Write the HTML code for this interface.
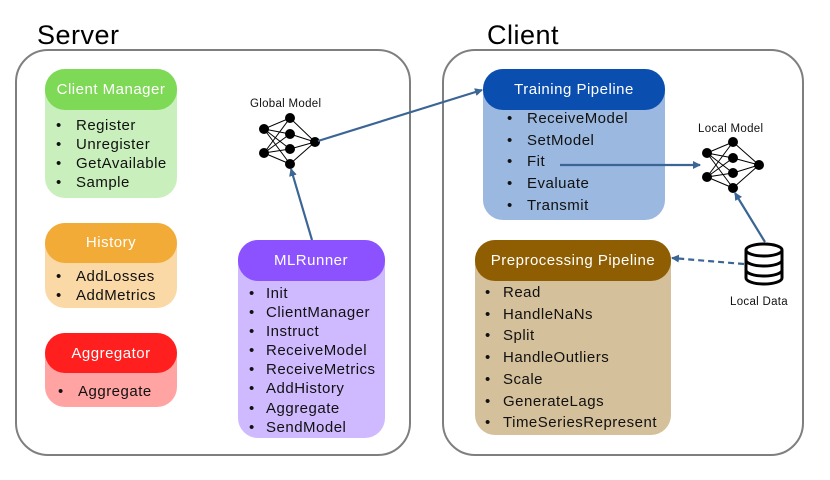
<!DOCTYPE html>
<html><head><meta charset="utf-8"><style>
body{margin:0;background:#fff;width:830px;height:475px;overflow:hidden}
text{font-family:"Liberation Sans",sans-serif}
.h{fill:#fff;font-size:15px;text-anchor:middle;letter-spacing:0.5px}
.i{fill:#111;font-size:15px;letter-spacing:0.5px}
</style></head><body>
<svg width="830" height="475" viewBox="0 0 830 475" xmlns="http://www.w3.org/2000/svg">
<defs><marker id="a" markerWidth="8" markerHeight="8" refX="7" refY="4" orient="auto" markerUnits="userSpaceOnUse"><path d="M0,0 L8,4 L0,8 z" fill="#3b6595"/></marker></defs>
<text x="37" y="44" font-size="27" fill="#000" letter-spacing="0.5">Server</text>
<text x="487" y="44" font-size="27" fill="#000" letter-spacing="0.5">Client</text>
<rect x="16" y="50" width="394" height="405" rx="32" fill="none" stroke="#7f7f7f" stroke-width="2"/>
<rect x="443" y="50" width="360" height="405" rx="32" fill="none" stroke="#7f7f7f" stroke-width="2"/>

<!-- Client Manager -->
<rect x="45" y="69" width="132" height="129" rx="20" fill="#c9f0bc"/>
<rect x="45" y="69" width="132" height="41" rx="20" fill="#7ed957"/>
<text class="h" x="111" y="94">Client Manager</text>
<g class="i"><text x="56" y="130">•</text><text x="76" y="130">Register</text>
<text x="56" y="149">•</text><text x="76" y="149">Unregister</text>
<text x="56" y="168">•</text><text x="76" y="168">GetAvailable</text>
<text x="56" y="187">•</text><text x="76" y="187">Sample</text></g>

<!-- History -->
<rect x="45" y="223" width="132" height="85" rx="20" fill="#fad9a6"/>
<rect x="45" y="223" width="132" height="40" rx="20" fill="#f2ab36"/>
<text class="h" x="111" y="247">History</text>
<g class="i"><text x="56" y="281">•</text><text x="76" y="281">AddLosses</text>
<text x="56" y="300">•</text><text x="76" y="300">AddMetrics</text></g>

<!-- Aggregator -->
<rect x="45" y="333" width="132" height="74" rx="20" fill="#ffa3a3"/>
<rect x="45" y="333" width="132" height="40" rx="20" fill="#ff1f1f"/>
<text class="h" x="111" y="358">Aggregator</text>
<g class="i"><text x="58" y="396">•</text><text x="78" y="396">Aggregate</text></g>

<!-- MLRunner -->
<rect x="238" y="240" width="147" height="198" rx="20" fill="#cfbaff"/>
<rect x="238" y="240" width="147" height="41" rx="20" fill="#8c52ff"/>
<text class="h" x="311" y="265">MLRunner</text>
<g class="i">
<text x="249" y="298">•</text><text x="266" y="298">Init</text>
<text x="249" y="317">•</text><text x="266" y="317">ClientManager</text>
<text x="249" y="336">•</text><text x="266" y="336">Instruct</text>
<text x="249" y="355">•</text><text x="266" y="355">ReceiveModel</text>
<text x="249" y="374">•</text><text x="266" y="374">ReceiveMetrics</text>
<text x="249" y="393">•</text><text x="266" y="393">AddHistory</text>
<text x="249" y="413">•</text><text x="266" y="413">Aggregate</text>
<text x="249" y="432">•</text><text x="266" y="432">SendModel</text></g>

<!-- Training Pipeline -->
<rect x="483" y="69" width="182" height="151" rx="20" fill="#9ab8e0"/>
<rect x="483" y="69" width="182" height="41" rx="20" fill="#0a4fb0"/>
<text class="h" x="574" y="94">Training Pipeline</text>
<g class="i">
<text x="507" y="123">•</text><text x="527" y="123">ReceiveModel</text>
<text x="507" y="145">•</text><text x="527" y="145">SetModel</text>
<text x="507" y="166">•</text><text x="527" y="166">Fit</text>
<text x="507" y="188">•</text><text x="527" y="188">Evaluate</text>
<text x="507" y="210">•</text><text x="527" y="210">Transmit</text></g>

<!-- Preprocessing -->
<rect x="475" y="240" width="196" height="195" rx="20" fill="#d4c09a"/>
<rect x="475" y="240" width="196" height="41" rx="20" fill="#8f5e02"/>
<text class="h" x="573" y="265">Preprocessing Pipeline</text>
<g class="i">
<text x="485" y="297">•</text><text x="503" y="297">Read</text>
<text x="485" y="319">•</text><text x="503" y="319">HandleNaNs</text>
<text x="485" y="340">•</text><text x="503" y="340">Split</text>
<text x="485" y="362">•</text><text x="503" y="362">HandleOutliers</text>
<text x="485" y="384">•</text><text x="503" y="384">Scale</text>
<text x="485" y="406">•</text><text x="503" y="406">GenerateLags</text>
<text x="485" y="427">•</text><text x="503" y="427">TimeSeriesRepresent</text></g>

<!-- Global model -->
<text x="250" y="107" font-size="11.5" fill="#111" letter-spacing="0.3">Global Model</text>
<g stroke="#000" stroke-width="1">
<path d="M264,129L290,118M264,129L290,134M264,129L290,149M264,129L290,164M264,153L290,118M264,153L290,134M264,153L290,149M264,153L290,164M290,118L315,142M290,134L315,142M290,149L315,142M290,164L315,142"/></g>
<g fill="#000"><circle cx="264" cy="129" r="5"/><circle cx="264" cy="153" r="5"/><circle cx="290" cy="118" r="5"/><circle cx="290" cy="134" r="5"/><circle cx="290" cy="149" r="5"/><circle cx="290" cy="164" r="5"/><circle cx="315" cy="142" r="5"/></g>

<!-- Local model -->
<text x="698" y="132" font-size="11.5" fill="#111" letter-spacing="0.3">Local Model</text>
<g stroke="#000" stroke-width="1">
<path d="M707,153L733,142M707,153L733,158M707,153L733,173M707,153L733,188M707,177L733,142M707,177L733,158M707,177L733,173M707,177L733,188M733,142L759,165M733,158L759,165M733,173L759,165M733,188L759,165"/></g>
<g fill="#000"><circle cx="707" cy="153" r="5"/><circle cx="707" cy="177" r="5"/><circle cx="733" cy="142" r="5"/><circle cx="733" cy="158" r="5"/><circle cx="733" cy="173" r="5"/><circle cx="733" cy="188" r="5"/><circle cx="759" cy="165" r="5"/></g>

<!-- Database -->
<g fill="#fff" stroke="#000" stroke-width="3">
<path d="M746,250 v28 a18,6 0 0 0 36,0 v-28"/>
<path d="M746,260 a18,6 0 0 0 36,0 M746,270 a18,6 0 0 0 36,0" fill="none"/>
<ellipse cx="764" cy="250" rx="18" ry="6"/></g>
<text x="730" y="305" font-size="11.5" fill="#111" letter-spacing="0.3">Local Data</text>

<!-- Arrows -->
<g stroke="#3b6595" stroke-width="2.2" fill="none">
<line x1="318" y1="141" x2="482" y2="90" marker-end="url(#a)"/>
<line x1="312" y1="240" x2="291" y2="169" marker-end="url(#a)"/>
<line x1="560" y1="165" x2="700" y2="165" marker-end="url(#a)"/>
<line x1="765" y1="242" x2="735" y2="193" marker-end="url(#a)"/>
<line x1="744" y1="264" x2="672" y2="258" stroke-dasharray="6,4" marker-end="url(#a)"/>
</g>
</svg>
</body></html>
